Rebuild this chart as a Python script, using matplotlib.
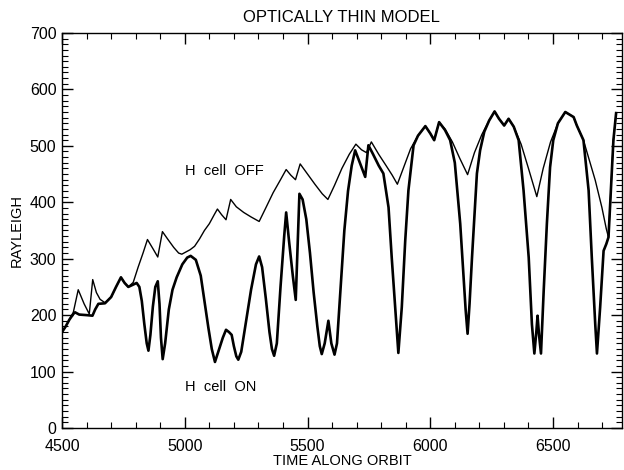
import numpy as np
import matplotlib
matplotlib.use('Agg')
import matplotlib.pyplot as plt
from matplotlib.ticker import MultipleLocator

# H cell OFF (thin line)
t_off = [4500, 4515, 4530, 4546, 4566, 4590, 4611, 4625, 4640, 4655, 4675, 4700, 4720, 4740,
         4755, 4770, 4790, 4810, 4830, 4848, 4870, 4890, 4909, 4930, 4955, 4975, 4988, 5005,
         5022, 5040, 5060, 5080, 5100, 5120, 5133, 5150, 5168, 5187, 5210, 5240, 5270, 5303,
         5330, 5360, 5390, 5413, 5432, 5451, 5470, 5500, 5530, 5560, 5583, 5610, 5640, 5670,
         5697, 5720, 5740, 5760, 5790, 5820, 5845, 5866, 5890, 5920, 5950, 5980, 6000, 6016,
         6036, 6060, 6090, 6120, 6152, 6180, 6210, 6240, 6262, 6280, 6301, 6319, 6340, 6370,
         6400, 6434, 6460, 6490, 6520, 6550, 6584, 6597, 6624, 6672, 6699, 6717, 6726, 6746, 6757]
v_off = [170, 180, 192, 205, 245, 220, 202, 263, 240, 228, 222, 232, 250, 267,
         257, 250, 258, 285, 310, 334, 318, 303, 348, 335, 320, 310, 308, 312,
         316, 322, 335, 350, 362, 378, 388, 378, 369, 405, 392, 382, 374, 366,
         390, 417, 440, 458, 448, 440, 468, 450, 432, 415, 405, 430, 460, 485,
         503, 493, 488, 507, 485, 465, 448, 432, 460, 495, 518, 535, 522, 510,
         542, 530, 507, 478, 449, 488, 520, 545, 561, 548, 536, 548, 534, 503,
         460, 410, 460, 507, 540, 560, 551, 536, 510, 439, 391, 353, 338, 510, 558]

# H cell ON (thick line)
t_on = [4500, 4515, 4530, 4546, 4553, 4570, 4600, 4624, 4635, 4648, 4675, 4700, 4720, 4740,
        4755, 4770, 4790, 4804, 4815, 4825, 4835, 4845, 4852, 4860, 4870, 4880, 4890, 4897,
        4903, 4910, 4920, 4935, 4950, 4967, 4990, 5010, 5024, 5045, 5065, 5080, 5096, 5110,
        5123, 5140, 5155, 5168, 5180, 5191, 5200, 5210, 5218, 5230, 5250, 5270, 5290, 5303,
        5315, 5330, 5345, 5355, 5364, 5375, 5390, 5405, 5413, 5425, 5440, 5452, 5460, 5467,
        5480, 5495, 5510, 5525, 5540, 5550, 5558, 5570, 5585, 5597, 5610, 5620, 5635, 5650,
        5665, 5680, 5694, 5715, 5735, 5748, 5766, 5790, 5809, 5830, 5843, 5857, 5870, 5884,
        5898, 5911, 5932, 5950, 5980, 6000, 6016, 6036, 6060, 6081, 6100, 6122, 6135, 6144,
        6152, 6160, 6170, 6190, 6203, 6220, 6240, 6262, 6280, 6301, 6319, 6340, 6360, 6380,
        6401, 6414, 6424, 6432, 6437, 6443, 6451, 6462, 6475, 6488, 6501, 6520, 6550, 6584,
        6597, 6624, 6645, 6658, 6672, 6679, 6692, 6706, 6717, 6726, 6746, 6757]
v_on = [170, 180, 192, 202, 205, 201, 200, 199, 210, 220, 221, 232, 250, 267,
        257, 250, 254, 257, 250, 225, 185, 150, 137, 165, 215, 250, 260, 220,
        160, 122, 150, 210, 245, 267, 290, 302, 305, 298, 270, 225, 178, 140,
        117, 140, 160, 174, 170, 165, 145, 127, 121, 135, 190, 245, 290, 304,
        285, 230, 170, 140, 128, 150, 250, 340, 382, 330, 270, 227, 330, 415,
        405, 370, 310, 240, 180, 145, 131, 150, 190, 150, 130, 150, 250, 350,
        420, 465, 492, 468, 445, 501, 486, 465, 451, 391, 302, 214, 133, 214,
        332, 421, 501, 518, 535, 522, 510, 542, 528, 510, 470, 362, 273, 210,
        167, 220, 302, 451, 492, 525, 545, 561, 548, 536, 548, 534, 510, 421,
        302, 184, 132, 170, 199, 165, 132, 243, 362, 462, 510, 540, 560, 551,
        536, 510, 421, 302, 184, 132, 214, 314, 326, 338, 510, 558]

plt.rcParams['font.family'] = ['Liberation Sans', 'DejaVu Sans']

fig = plt.figure(figsize=(6.24, 4.70), dpi=100)
ax = fig.add_axes([0.0994, 0.0894, 0.897, 0.8404])

ax.plot(t_off, v_off, color='black', lw=1.0)
ax.plot(t_on, v_on, color='black', lw=1.9)

ax.text(5001, 456, 'H  cell  OFF', fontsize=10.5, va='center', ha='left')
ax.text(5001, 73, 'H  cell  ON', fontsize=10.5, va='center', ha='left')

ax.set_xlim(4500, 6780)
ax.set_ylim(0, 700)
ax.xaxis.set_major_locator(MultipleLocator(500))
ax.xaxis.set_minor_locator(MultipleLocator(100))
ax.yaxis.set_major_locator(MultipleLocator(100))
ax.yaxis.set_minor_locator(MultipleLocator(10))
ax.tick_params(which='both', direction='in', top=True, right=True, labelsize=11.5)
ax.tick_params(which='major', length=8, width=1)
ax.tick_params(which='minor', length=4, width=0.8)
ax.tick_params(axis='x', which='major', pad=8)
ax.tick_params(axis='y', which='major', pad=4)
for s in ax.spines.values():
    s.set_linewidth(1.0)

ax.set_title('OPTICALLY THIN MODEL', fontsize=12, pad=8)
ax.set_xlabel('TIME ALONG ORBIT', fontsize=10.5, labelpad=0)
ax.set_ylabel('RAYLEIGH', fontsize=10.5, labelpad=4)

fig.savefig('out.png', dpi=100)
